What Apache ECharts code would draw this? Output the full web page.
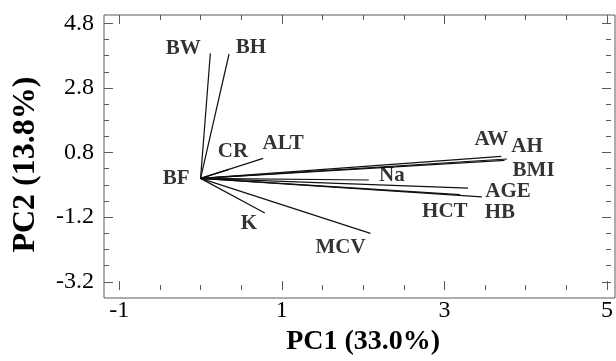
<!DOCTYPE html>
<html>
<head>
<meta charset="utf-8">
<script src="https://cdn.jsdelivr.net/npm/echarts@6/dist/echarts.min.js"></script>
<style>
html,body{margin:0;padding:0;background:#fff;}
#chart{width:616px;height:361px;}
</style>
</head>
<body>
<div id="chart"></div>
<script>
// ---- data ----
const variables = ['BW', 'BH', 'CR', 'ALT', 'BF', 'K', 'MCV', 'Na', 'AW', 'AH', 'BMI', 'AGE', 'HCT', 'HB'];
const pc1 = [0.12, 0.35, 0.35, 0.77, 0.02, 0.79, 2.09, 2.07, 3.70, 3.77, 3.74, 3.29, 3.19, 3.46];
const pc2 = [3.87, 3.85, 0.28, 0.62, -0.01, -1.07, -1.70, -0.05, 0.68, 0.60, 0.56, -0.30, -0.50, -0.57];
const xTicks = [-1, 1, 3, 5];
const yTicks = [-3.2, -1.2, 0.8, 2.8, 4.8];
const xTitle = 'PC1 (33.0%)';
const yTitle = 'PC2 (13.8%)';

// ---- layout (pixel offsets of each vector label from its arrow tip) ----
const labelOffset = {
  BW: [-27, -5], BH: [22, -6], CR: [4, -18], ALT: [20, -15], BF: [-26, 0],
  K: [-16, 11], MCV: [-30, 14], Na: [23, -4], AW: [-10, -17], AH: [20, -12],
  BMI: [29, 10], AGE: [40, 3], HCT: [-15, 17], HB: [18, 16]
};

const serif = 'Liberation Serif';
const axisColor = '#5a5a5a';

const xMin = xTicks[0], xMax = xTicks[xTicks.length - 1];
const yMin = yTicks[0], yMax = yTicks[yTicks.length - 1];
const xStep = xTicks[1] - xTicks[0];
const yStep = yTicks[1] - yTicks[0];

const chart = echarts.init(document.getElementById('chart'), null, {renderer: 'canvas'});

const tickAxisCommon = {
  axisLine: {show: false, onZero: false},
  splitLine: {show: false},
  minorSplitLine: {show: false},
  axisTick: {show: true, inside: true, length: 9, lineStyle: {color: axisColor, width: 1}},
  minorTick: {show: true, splitNumber: 4, length: 5, lineStyle: {color: axisColor, width: 1}}
};

const series = [];
variables.forEach((v, i) => {
  series.push({
    type: 'line', name: v, xAxisIndex: 1, yAxisIndex: 1,
    data: [[0, 0], [pc1[i], pc2[i]]],
    symbol: 'none', clip: false, silent: true,
    lineStyle: {color: '#111', width: 1.2},
    z: 3
  });
});
series.push({
  type: 'scatter', xAxisIndex: 1, yAxisIndex: 1,
  symbolSize: 1, itemStyle: {color: 'rgba(0,0,0,0)'}, clip: false, silent: true,
  data: variables.map((v, i) => ({
    value: [pc1[i], pc2[i]], name: v,
    label: {offset: labelOffset[v]}
  })),
  label: {
    show: true, position: 'inside', formatter: p => p.name,
    fontFamily: serif, fontWeight: 'bold', fontSize: 21, color: '#000',
    align: 'center', verticalAlign: 'middle'
  },
  z: 4
});

const option = {
  animation: false,
  backgroundColor: '#fff',
  grid: [
    {left: 104, right: 1, top: 15, bottom: 63, show: true, borderColor: axisColor, borderWidth: 1, backgroundColor: 'transparent'},
    {left: 119.3, right: 5, top: 23.3, bottom: 71}
  ],
  xAxis: [
    {gridIndex: 0, type: 'value', show: false, min: 0, max: 1},
    Object.assign({}, tickAxisCommon, {
      gridIndex: 1, type: 'value', position: 'bottom', offset: 8.3,
      min: xMin, max: xMax, interval: xStep,
      axisLabel: {show: true, margin: 9, fontFamily: serif, fontSize: 24, color: '#000',
        formatter: v => String(v)},
      name: xTitle, nameLocation: 'middle', nameGap: 33,
      nameTextStyle: {fontFamily: serif, fontWeight: 'bold', fontSize: 28, color: '#000'}
    }),
    Object.assign({}, tickAxisCommon, {
      gridIndex: 1, type: 'value', position: 'top', offset: 8.3,
      min: xMin, max: xMax, interval: xStep,
      axisLabel: {show: false}
    })
  ],
  yAxis: [
    {gridIndex: 0, type: 'value', show: false, min: 0, max: 1},
    Object.assign({}, tickAxisCommon, {
      gridIndex: 1, type: 'value', position: 'left', offset: 15.3,
      min: yMin, max: yMax, interval: yStep,
      axisLabel: {show: true, margin: 10, fontFamily: serif, fontSize: 24, color: '#000',
        formatter: v => (Math.round(v * 10) / 10).toFixed(1)},
      name: yTitle, nameLocation: 'middle', nameGap: 62, nameRotate: 90,
      nameTextStyle: {fontFamily: serif, fontWeight: 'bold', fontSize: 32, color: '#000', padding: [0, 24, 0, 0]}
    }),
    Object.assign({}, tickAxisCommon, {
      gridIndex: 1, type: 'value', position: 'right', offset: 4,
      min: yMin, max: yMax, interval: yStep,
      axisLabel: {show: false}
    })
  ],
  series: series
};
chart.setOption(option);
</script>
</body>
</html>
